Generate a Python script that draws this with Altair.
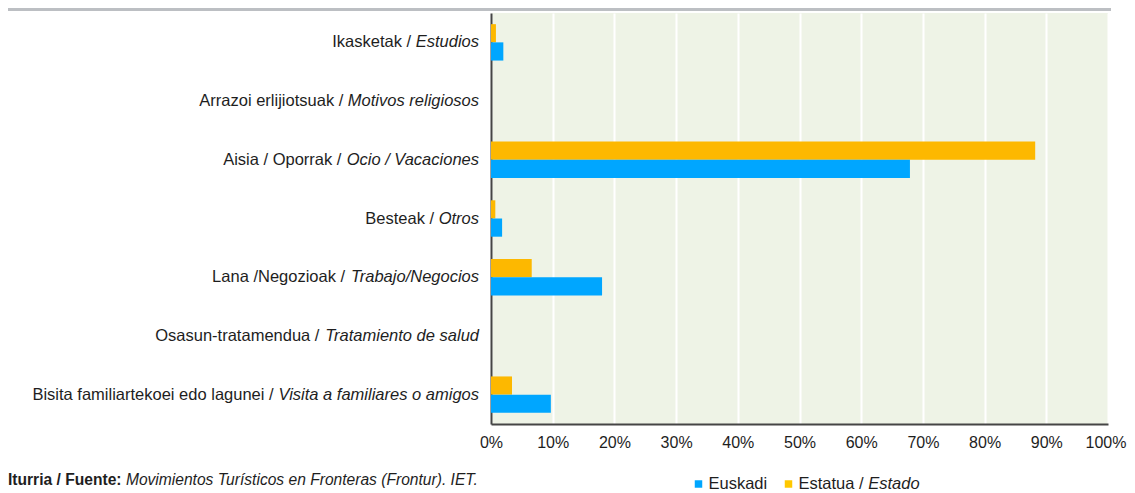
import altair as alt
import pandas as pd

# ---------------- data ----------------
cats_eu = ["Ikasketak", "Arrazoi erlijiotsuak", "Aisia / Oporrak", "Besteak",
           "Lana /Negozioak", "Osasun-tratamendua", "Bisita familiartekoei edo lagunei"]
cats_es = ["Estudios", "Motivos religiosos", "Ocio / Vacaciones", "Otros",
           "Trabajo/Negocios", "Tratamiento de salud", "Visita a familiares o amigos"]
euskadi = [2.0, 0.0, 67.9, 1.8, 18.0, 0.0, 9.7]
estatua = [0.8, 0.0, 88.2, 0.7, 6.6, 0.0, 3.4]
series = ["Estatua", "Euskadi"]
x_ticks = [0, 10, 20, 30, 40, 50, 60, 70, 80, 90, 100]
source_bold = "Iturria / Fuente:"
source_italic = "Movimientos Turísticos en Fronteras (Frontur). IET."
legend_eu = "Euskadi"
legend_es_reg = "Estatua /"
legend_es_it = "Estado"

# ---------------- style ----------------
FONT = "Liberation Sans"
BLUE = "#00A6FF"
ORANGE = "#FDB800"
LEG_ORANGE = "#FFC800"
TXT = "#1E1E1E"
BG = "#EEF3E6"
FS_LAB = 16.5
FS_TICK = 16
FS_LEG = 16.5
FS_SRC = 15.6
W, H = 617, 411
PAD_L, PAD_T = 483, 5

# Liberation Sans (Arial-metric) advance widths /1000
_REG = dict(zip("abcdefghijklmnopqrstuvwxyz",
                [556, 556, 500, 556, 556, 278, 556, 556, 222, 222, 500, 222, 833,
                 556, 556, 556, 556, 333, 500, 278, 556, 500, 722, 500, 500, 500]))
_REG.update(dict(zip("ABCDEFGHIJKLMNOPQRSTUVWXYZ",
                     [667, 667, 722, 722, 667, 611, 778, 722, 278, 500, 667, 556, 833,
                      722, 778, 667, 778, 722, 667, 611, 722, 667, 944, 667, 667, 611])))
_REG.update({" ": 278, "/": 278, "-": 333, "(": 333, ")": 333, ".": 278, ":": 278,
             "í": 278, "%": 889})
_BOLD = dict(zip("abcdefghijklmnopqrstuvwxyz",
                 [556, 611, 556, 611, 556, 333, 611, 611, 278, 278, 556, 278, 889,
                  611, 611, 611, 611, 389, 556, 333, 611, 556, 778, 556, 556, 500]))
_BOLD.update({" ": 278, "/": 278, ":": 333, "I": 278, "F": 611})


def tw(s, size, bold=False):
    tbl = _BOLD if bold else _REG
    return sum(tbl.get(ch, 556) for ch in s) / 1000.0 * size


# ---------------- tables ----------------
bar_rows = []
for i, c in enumerate(cats_eu):
    bar_rows.append({"cat": c, "series": "Estatua", "value": estatua[i]})
    bar_rows.append({"cat": c, "series": "Euskadi", "value": euskadi[i]})
bars_df = pd.DataFrame(bar_rows)

GAP = 12
lab_rows = []
for c, es in zip(cats_eu, cats_es):
    w_es = tw(es, FS_LAB)
    lab_rows.append({"cat": c, "eu": c + " /", "es": es,
                     "es_px": -GAP, "eu_px": -GAP - w_es - tw(" ", FS_LAB)})
lab_df = pd.DataFrame(lab_rows)

bars = alt.Chart(bars_df).mark_bar().encode(
    x=alt.X("value:Q",
            scale=alt.Scale(domain=[0, 100], nice=False),
            axis=alt.Axis(values=x_ticks, labelExpr="datum.value + '%'", title=None,
                          grid=True, gridColor="white", gridWidth=2,
                          domainColor="#454545", domainWidth=2, ticks=False,
                          labelFont=FONT, labelFontSize=FS_TICK, labelColor=TXT,
                          labelPadding=10, labelOverlap=False, labelFlush=False,
                          labelOffset={"condition": {"test": "datum.value == 100",
                                                     "value": -2.5},
                                       "value": 0})),
    y=alt.Y("cat:N", sort=cats_eu,
            scale=alt.Scale(domain=cats_eu, paddingInner=0.38, paddingOuter=0.19),
            axis=alt.Axis(labels=False, ticks=False, title=None, grid=False,
                          domainColor="#454545", domainWidth=2)),
    yOffset=alt.YOffset("series:N", sort=series, scale=alt.Scale(domain=series)),
    color=alt.Color("series:N", scale=alt.Scale(domain=["Euskadi", "Estatua"],
                                                range=[BLUE, ORANGE]), legend=None),
)

lab_es = alt.Chart(lab_df).mark_text(
    align="right", baseline="middle", font=FONT, fontSize=FS_LAB,
    fontStyle="italic", color=TXT).encode(
    x=alt.X("es_px:Q", scale=None),
    y=alt.Y("cat:N", sort=cats_eu),
    text="es:N")

lab_eu = alt.Chart(lab_df).mark_text(
    align="right", baseline="middle", font=FONT, fontSize=FS_LAB, color=TXT).encode(
    x=alt.X("eu_px:Q", scale=None),
    y=alt.Y("cat:N", sort=cats_eu),
    text="eu:N")

one = pd.DataFrame({"k": [0]})

top_rule = alt.Chart(one).mark_rule(color="#BCBFC3", strokeWidth=3).encode(
    x=alt.value(-PAD_L), x2=alt.value(W + 3), y=alt.value(-3.5))

SRC_Y = 466.5
src_b = alt.Chart(one).mark_text(
    align="left", baseline="middle", font=FONT, fontSize=FS_SRC,
    fontWeight="bold", color=TXT).encode(
    x=alt.value(-PAD_L), y=alt.value(SRC_Y), text=alt.value(source_bold))
src_i = alt.Chart(one).mark_text(
    align="left", baseline="middle", font=FONT, fontSize=FS_SRC,
    fontStyle="italic", color=TXT).encode(
    x=alt.value(-PAD_L + tw(source_bold, FS_SRC, bold=True) + tw(" ", FS_SRC)),
    y=alt.value(SRC_Y), text=alt.value(source_italic))

LEG_Y = 471
LX1 = 207.5
LX2 = 297.5
leg_sq1 = alt.Chart(one).mark_square(size=56, color=BLUE, opacity=1).encode(
    x=alt.value(LX1), y=alt.value(LEG_Y))
leg_sq2 = alt.Chart(one).mark_square(size=56, color=LEG_ORANGE, opacity=1).encode(
    x=alt.value(LX2), y=alt.value(LEG_Y))
leg_t1 = alt.Chart(one).mark_text(
    align="left", baseline="middle", font=FONT, fontSize=FS_LEG, color=TXT).encode(
    x=alt.value(LX1 + 10), y=alt.value(LEG_Y), text=alt.value(legend_eu))
leg_t2 = alt.Chart(one).mark_text(
    align="left", baseline="middle", font=FONT, fontSize=FS_LEG, color=TXT).encode(
    x=alt.value(LX2 + 10), y=alt.value(LEG_Y), text=alt.value(legend_es_reg))
leg_t3 = alt.Chart(one).mark_text(
    align="left", baseline="middle", font=FONT, fontSize=FS_LEG,
    fontStyle="italic", color=TXT).encode(
    x=alt.value(LX2 + 10 + tw(legend_es_reg + " ", FS_LEG)), y=alt.value(LEG_Y),
    text=alt.value(legend_es_it))

chart = alt.layer(
    bars, lab_es, lab_eu, top_rule, src_b, src_i,
    leg_sq1, leg_sq2, leg_t1, leg_t2, leg_t3
).properties(
    width=W, height=H,
    autosize=alt.AutoSizeParams(type="none"),
    padding={"left": PAD_L, "top": PAD_T, "right": 1119 - PAD_L - W, "bottom": 69},
    background="white",
).configure_view(fill=BG, stroke=None)

chart.save("out.html", embed_options={"renderer": "svg", "actions": False})
